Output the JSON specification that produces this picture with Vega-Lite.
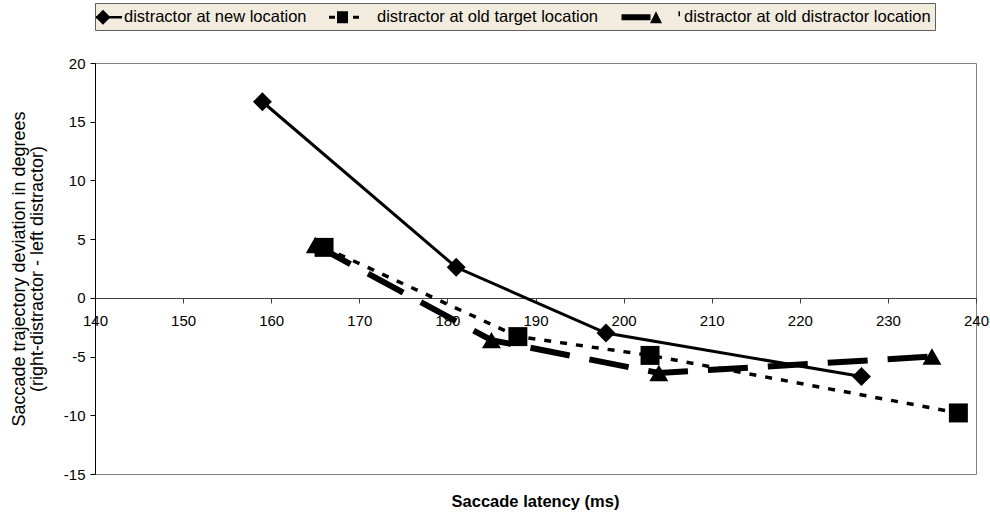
{
  "$schema": "https://vega.github.io/schema/vega-lite/v6.json",
  "width": 881,
  "height": 411,
  "autosize": "none",
  "padding": {"left": 95, "top": 63, "right": 14, "bottom": 39},
  "background": "white",
  "config": {
    "font": "Liberation Sans",
    "view": {"stroke": "#808080", "strokeWidth": 1},
    "axis": {"labelColor": "black", "titleColor": "black", "labelFont": "Liberation Sans", "titleFont": "Liberation Sans", "grid": false}
  },
  "title": {"text": "Saccade latency (ms)", "orient": "bottom", "fontSize": 16.5, "fontWeight": "bold", "color": "black", "offset": 12, "anchor": "middle"},
  "data": {
    "values": [
      {"series": "distractor at new location", "latency": 159, "deviation": 16.7},
      {"series": "distractor at new location", "latency": 181, "deviation": 2.6},
      {"series": "distractor at new location", "latency": 198, "deviation": -3.0},
      {"series": "distractor at new location", "latency": 227, "deviation": -6.7},
      {"series": "distractor at old target location", "latency": 166, "deviation": 4.3},
      {"series": "distractor at old target location", "latency": 188, "deviation": -3.3},
      {"series": "distractor at old target location", "latency": 203, "deviation": -4.9},
      {"series": "distractor at old target location", "latency": 238, "deviation": -9.8},
      {"series": "distractor at old distractor location", "latency": 165, "deviation": 4.5},
      {"series": "distractor at old distractor location", "latency": 185, "deviation": -3.6},
      {"series": "distractor at old distractor location", "latency": 204, "deviation": -6.4},
      {"series": "distractor at old distractor location", "latency": 235, "deviation": -5.0}
    ]
  },
  "encoding": {
    "x": {
      "field": "latency", "type": "quantitative",
      "scale": {"domain": [140, 240], "nice": false, "zero": false},
      "axis": {"orient": "bottom", "offset": -176, "values": [140, 150, 160, 170, 180, 190, 200, 210, 220, 230, 240], "title": null, "domainColor": "#404040", "tickColor": "#404040", "tickSize": 5, "labelFontSize": 15, "labelPadding": 10, "labelOverlap": false, "labelFlush": false}
    },
    "y": {
      "field": "deviation", "type": "quantitative",
      "scale": {"domain": [-15, 20], "nice": false, "zero": false},
      "axis": {"values": [-15, -10, -5, 0, 5, 10, 15, 20], "labelExpr": "'' + datum.value", "title": ["Saccade trajectory deviation in degrees", "(right-distractor - left distractor)"], "titleFontSize": 18, "titleFontWeight": "normal", "titleLineHeight": 18, "titlePadding": 17, "domainColor": "black", "tickColor": "black", "tickSize": 5, "labelFontSize": 15, "labelPadding": 5}
    }
  },
  "layer": [
    {
      "transform": [{"filter": "datum.series === 'distractor at new location'"}],
      "mark": {"type": "line", "color": "black", "strokeWidth": 3}
    },
    {
      "transform": [{"filter": "datum.series === 'distractor at old target location'"}],
      "mark": {"type": "line", "color": "black", "strokeWidth": 3.5, "strokeDash": [7, 9]}
    },
    {
      "transform": [{"filter": "datum.series === 'distractor at old distractor location'"}],
      "mark": {"type": "line", "color": "black", "strokeWidth": 6, "strokeDash": [40, 20]}
    },
    {
      "mark": {"type": "point", "filled": true, "color": "black", "opacity": 1, "size": 360},
      "encoding": {
        "shape": {
          "field": "series", "type": "nominal",
          "scale": {"domain": ["distractor at new location", "distractor at old target location", "distractor at old distractor location"], "range": ["diamond", "square", "triangle-up"]},
          "legend": null
        }
      }
    },
    {
      "mark": {"type": "point", "filled": true, "color": "black", "opacity": 0, "size": 0},
      "encoding": {
        "shape": {
          "field": "series", "type": "nominal",
          "scale": {"domain": ["distractor at new location", "distractor at old target location", "distractor at old distractor location"], "range": [
            "M-1.3,-0.13H1.3V0.13H-1.3Z M-0.6,-0.75L0.15,0L-0.6,0.75L-1.35,0Z",
            "M-3.3,-0.15H-2.7V0.15H-3.3Z M-2.5,-0.6H-1.4V0.6H-2.5Z M-0.9,-0.15H-0.3V0.15H-0.9Z",
            "M-4.75,-0.3H-1.85V0.3H-4.75Z M-1.3,-0.6L-0.7,0.6L-1.9,0.6Z M0.95,-0.6H1.1V-0.1H0.95Z"
          ]},
          "legend": {
            "title": null, "orient": "none", "legendX": 0, "legendY": -60, "direction": "horizontal",
            "fillColor": "#f2ecdf", "strokeColor": "#606060", "padding": 4,
            "labelFontSize": 16.5, "labelColor": "black", "labelOffset": 5, "columnPadding": 22, "labelLimit": 400,
            "symbolSize": 400, "symbolFillColor": "black", "symbolStrokeWidth": 0, "symbolOpacity": 1
          }
        }
      }
    }
  ],
  "resolve": {"scale": {"shape": "independent"}, "legend": {"shape": "independent"}}
}
